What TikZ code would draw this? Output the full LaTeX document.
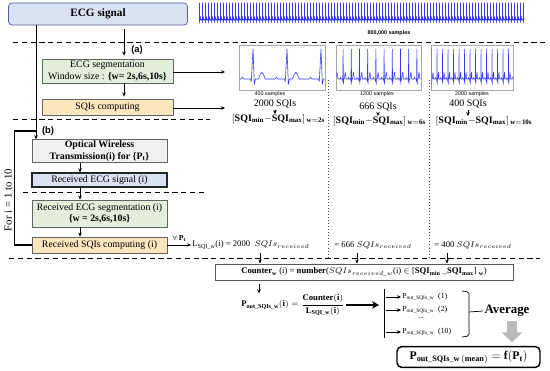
\documentclass[tikz,border=0pt]{standalone}
\usepackage{fontspec}
\setmainfont{Liberation Serif}
\newfontfamily\labelfont{Liberation Sans}
\usepackage{amsmath}
\usepackage{tikz}
\usetikzlibrary{arrows.meta, calc}
\definecolor{sigblue}{RGB}{218,227,243}
\definecolor{seggreen}{RGB}{226,239,218}
\definecolor{sqiorange}{RGB}{252,230,190}
\definecolor{owgray}{RGB}{240,240,240}
\definecolor{edge}{RGB}{100,100,100}
\definecolor{wave}{RGB}{55,55,255}
\newcommand{\boxfont}{\fontsize{8.4}{9.8}\selectfont}
\newcommand{\notefont}{\fontsize{7.4}{8.6}\selectfont}
\newcommand{\sqifont}{\fontsize{8.5}{10}\selectfont}
\newcommand{\tinyfont}{\labelfont\fontsize{4.6}{5}\selectfont}

\begin{document}
\begin{tikzpicture}[x=0.03cm, y=-0.03cm,
  box/.style={draw=edge, line width=0.6pt, align=center, font=\boxfont, inner sep=1pt},
  arrow/.style={-{Stealth[length=3.5pt,width=3pt]}, line width=0.5pt},
  sep/.style={line width=0.8pt, dash pattern=on 4.5pt off 3pt},
  panel/.style={draw=gray!70, line width=0.8pt, fill=white, minimum height=1.35cm},
  note/.style={font=\notefont, inner sep=1pt},
  ecgbeat/.pic={\draw[wave, line join=round] (0,0) -- (0.14,0) -- (0.19,-0.06) -- (0.24,0)
    -- (0.42,0) -- (0.45,0.08) -- (0.5,-1) -- (0.54,0.18) -- (0.57,0) -- (0.66,0)
    -- (0.71,-0.15) -- (0.76,-0.22) -- (0.81,-0.15) -- (0.86,0) -- (1,0);},
]
  \useasboundingbox (0,0) rectangle (550,371);

  % input signal
  \node[box, fill=sigblue, draw=gray!70!blue, rounded corners=3pt, minimum width=5.37cm,
        minimum height=0.66cm, font=\fontsize{9.6}{11}\selectfont\bfseries] (ecg) at (98,14) {ECG signal};
  \begin{scope}[line width=0.5pt]
    \clip (199,0) rectangle (524,27);
    \foreach \k in {0,...,109} \pic[xscale=3.0, yscale=17] at ({198+3.0*\k},20) {ecgbeat};
  \end{scope}
  \node[font=\tinyfont\bfseries] (samples) at (389,33) {800,000 samples};

  % separators
  \draw[sep] (13,42) -- (545,42);
  \draw[sep] (13,119) -- (210,119);
  \draw[sep] (23,192) -- (205,192);
  \draw[sep] (9,258) -- (540,258);
  \draw[dotted, gray!60!black, line width=0.6pt] (328,80) -- (328,258);
  \draw[dotted, gray!60!black, line width=0.6pt] (429,80) -- (429,258);

  % (a) reference segmentation
  \node[font=\labelfont\bfseries\fontsize{8}{9}\selectfont] (lbla) at (137,50) {(a)};
  \node[box, fill=seggreen, minimum width=3.93cm, minimum height=0.72cm] (seg) at (107.5,71)
    {ECG segmentation\\Window size : \textbf{\{w= 2s,6s,10s\}}};
  \node[box, fill=sqiorange, minimum width=3.93cm, minimum height=0.48cm] (sqi) at (107.5,107) {SQIs computing};
  \draw[arrow] ([shift={(26,4)}]ecg.south) -- ([shift={(16.5,-3)}]seg.north);
  \draw[arrow] ([shift={(16.5,0)}]seg.south) -- ([shift={(16.5,-2)}]sqi.north);
  \coordinate (segto) at (225,72);
  \coordinate (sqito) at (225,108);
  \draw[arrow] (seg.east |- segto) -- (segto);
  \draw[arrow] (sqi.east |- sqito) -- (sqito);

  % windows
  \node[panel, minimum width=2.58cm] (win2) at (282,67.5) {};
  \node[panel, minimum width=2.55cm] (win6) at (378.5,67.5) {};
  \node[panel, minimum width=2.46cm] (win10) at (472,67.5) {};
  \begin{scope}[line width=0.5pt]
    \clip (239.5,46.5) rectangle (324.5,88.5);
    \foreach \k in {0,1,2} \pic[xscale=34, yscale=30] at ({236+34*\k},79) {ecgbeat};
  \end{scope}
  \begin{scope}[line width=0.45pt]
    \clip (336.5,46.5) rectangle (420.5,88.5);
    \foreach \k in {-1,...,10} \pic[xscale=8.2, yscale=30] at ({339+8.2*\k},79) {ecgbeat};
  \end{scope}
  \begin{scope}[line width=0.45pt]
    \clip (431.5,46.5) rectangle (512.5,88.5);
    \foreach \k in {-1,...,14} \pic[xscale=5.5, yscale=30] at ({434.3+5.5*\k},79) {ecgbeat};
  \end{scope}
  \node[font=\tinyfont] (len2) at (270,94) {400 samples};
  \node[font=\tinyfont] (len6) at (377,94) {1200 samples};
  \node[font=\tinyfont] (len10) at (472,94) {2000 samples};
  \node[note, font=\sqifont] (nsqi2) at (275,104) {2000 SQIs};
  \node[note, font=\sqifont] (nsqi6) at (378,107) {666 SQIs};
  \node[note, font=\sqifont] (nsqi10) at (468,104) {400 SQIs};
  \node[font=\sqifont, inner sep=0pt] (rng2) at (278.5,119) {$\mathbf{[SQI_{min}{-}SQI_{max}]_{\,w=2s}}$};
  \node[font=\sqifont, inner sep=0pt] (rng6) at (379.5,121) {$\mathbf{[SQI_{min}{-}SQI_{max}]_{\,w=6s}}$};
  \node[font=\sqifont, inner sep=0pt] (rng10) at (484,121) {$\mathbf{[SQI_{min}{-}SQI_{max}]_{\,w=10s}}$};
  \draw[arrow] (nsqi2.south) -- (nsqi2.south |- rng2.north);
  \draw[arrow] (nsqi6.south) -- (nsqi6.south |- rng6.north);
  \draw[arrow] (nsqi10.south) -- (nsqi10.south |- rng10.north);

  % (b) received signal, repeated for i = 1..10
  \node[font=\labelfont\bfseries\fontsize{8}{9}\selectfont] (lblb) at (48,131) {(b)};
  \node[box, fill=owgray, minimum width=4.05cm, minimum height=0.66cm, font=\boxfont\bfseries] (ow) at (99.5,151)
    {Optical Wireless\\Transmission(i) for \{$\mathbf{P_t}$\}};
  \node[box, fill=sigblue, draw=black!85, line width=1pt, minimum width=4.05cm, minimum height=0.42cm] (rx) at (99.5,180)
    {Received ECG signal (i)};
  \node[box, fill=seggreen, minimum width=4.05cm, minimum height=0.81cm] (rseg) at (99.5,213.5)
    {Received ECG segmentation (i)\\\textbf{\{w = 2s,6s,10s\}}};
  \node[box, fill=sqiorange, minimum width=4.05cm, minimum height=0.48cm] (rsqi) at (99.5,245)
    {Received SQIs computing (i)};
  \draw[arrow] ([shift={(-19.5,0)}]ow.south) -- ([shift={(-19.5,0)}]rx.north);
  \draw[arrow] ([shift={(-19.5,0)}]rx.south) -- ([shift={(-19.5,0)}]rseg.north);
  \draw[arrow] ([shift={(-19.5,0)}]rseg.south) -- ([shift={(-19.5,0)}]rsqi.north);
  \coordinate (bjoin) at (36,131);
  \draw[arrow] (ecg.south -| bjoin) -- (bjoin |- ow.north);
  \draw[line width=1.1pt] (rsqi.west) -- ++(-17,0) |- (bjoin);
  \node[rotate=90, font=\fontsize{9.2}{10}\selectfont] (forlbl) at (8,200) {For i = 1 to 10};

  % received SQIs per window
  \node[note, anchor=west] (l2000) at (191,245) {L$_{\text{SQI\_w}}$(i) = 2000 \ $SQIs_{received}$};
  \node[note, anchor=west] (l666) at (333,245) {= 666 $SQIs_{received}$};
  \node[note, anchor=west] (l400) at (433,245) {= 400 $SQIs_{received}$};
  \draw[arrow] (rsqi.east) -- (l2000.west) node[midway, above=-1pt, font=\fontsize{6.5}{7}\selectfont] {$\forall\,\mathbf{P_t}$};

  % counting
  \node[box, draw=gray!70!black, line width=0.8pt, minimum width=8.94cm, minimum height=0.48cm, font=\notefont] (counter) at (364,272)
    {\textbf{Counter}$_{\mathbf{w}}$ (i) = \textbf{number}($SQIs_{received\_w}$(i) $\in$ [\textbf{SQI}$_{\mathbf{min}}$ \_\textbf{SQI}$_{\mathbf{max}}$] $_{\mathbf{w}}$)};
  \coordinate (c1) at (260,253);
  \coordinate (c2) at (357,253);
  \coordinate (c3) at (447,253);
  \draw[arrow] (c1) -- (c1 |- counter.north);
  \draw[arrow] (c2) -- (c2 |- counter.north);
  \draw[arrow] (c3) -- (c3 |- counter.north);

  \node[note] (pout) at (293,305)
    {$\mathbf{P}_{\mathbf{out\_SQIs\_w}}\mathbf{(i)} = \dfrac{\mathbf{Counter(i)}}{\mathbf{L}_{\mathbf{SQI\_w}}\mathbf{(i)}}$};
  \coordinate (c4) at (259,284);
  \draw[arrow] (c4) -- (c4 |- pout.north);

  % outage per iteration
  \coordinate (bartop) at (384,289);
  \coordinate (barbot) at (384,338);
  \draw[line width=0.7pt] (bartop) -- (barbot);
  \draw[-{Stealth[length=6pt,width=6.5pt]}, line width=1.6pt, shorten >=0.15cm] (pout.east) -- (bartop |- pout.east);
  \node[note, anchor=west, font=\fontsize{6.6}{7}\selectfont] (out1) at (401,297) {P$_{\text{out\_SQIs\_w}}$ \ (1)};
  \node[note, anchor=west, font=\fontsize{6.6}{7}\selectfont] (out2) at (401,310) {P$_{\text{out\_SQIs\_w}}$ \ (2)};
  \node[note, font=\fontsize{6.6}{7}\selectfont] (dots) at (421,318) {...};
  \node[note, anchor=west, font=\fontsize{6.6}{7}\selectfont] (out10) at (401,332) {P$_{\text{out\_SQIs\_w}}$ \ (10)};
  \draw[arrow, shorten <=2pt] (bartop |- out1.west) -- (out1.west);
  \draw[arrow, shorten <=2pt] (bartop |- out2.west) -- (out2.west);
  \draw[arrow, shorten <=2pt] (bartop |- out10.west) -- (out10.west);

  % average
  \node[font=\fontsize{11}{13}\selectfont\bfseries, inner sep=1pt] (avg) at (507,311) {Average};
  \draw[line width=0.6pt, rounded corners=1.5pt] (462,291) -- (469,292) -- (469,336) -- (462,337);
  \draw[line width=0.6pt] (469,312) -- (avg.west);
  \node[draw=black, line width=1.2pt, rounded corners=4pt, minimum width=4.29cm, minimum height=0.6cm,
        font=\fontsize{10}{12}\selectfont] (result) at (468.5,357) {$\mathbf{P_{out\_SQIs\_w\,(mean)} = f(P_t)}$};
  \draw[gray!55, line width=0.3cm, -{Triangle[width=0.6cm,length=0.3cm]}, shorten >=3pt]
    ([shift={(5,3)}]avg.south) -- ([shift={(5,0)}]avg.south |- result.north);
\end{tikzpicture}
\end{document}
